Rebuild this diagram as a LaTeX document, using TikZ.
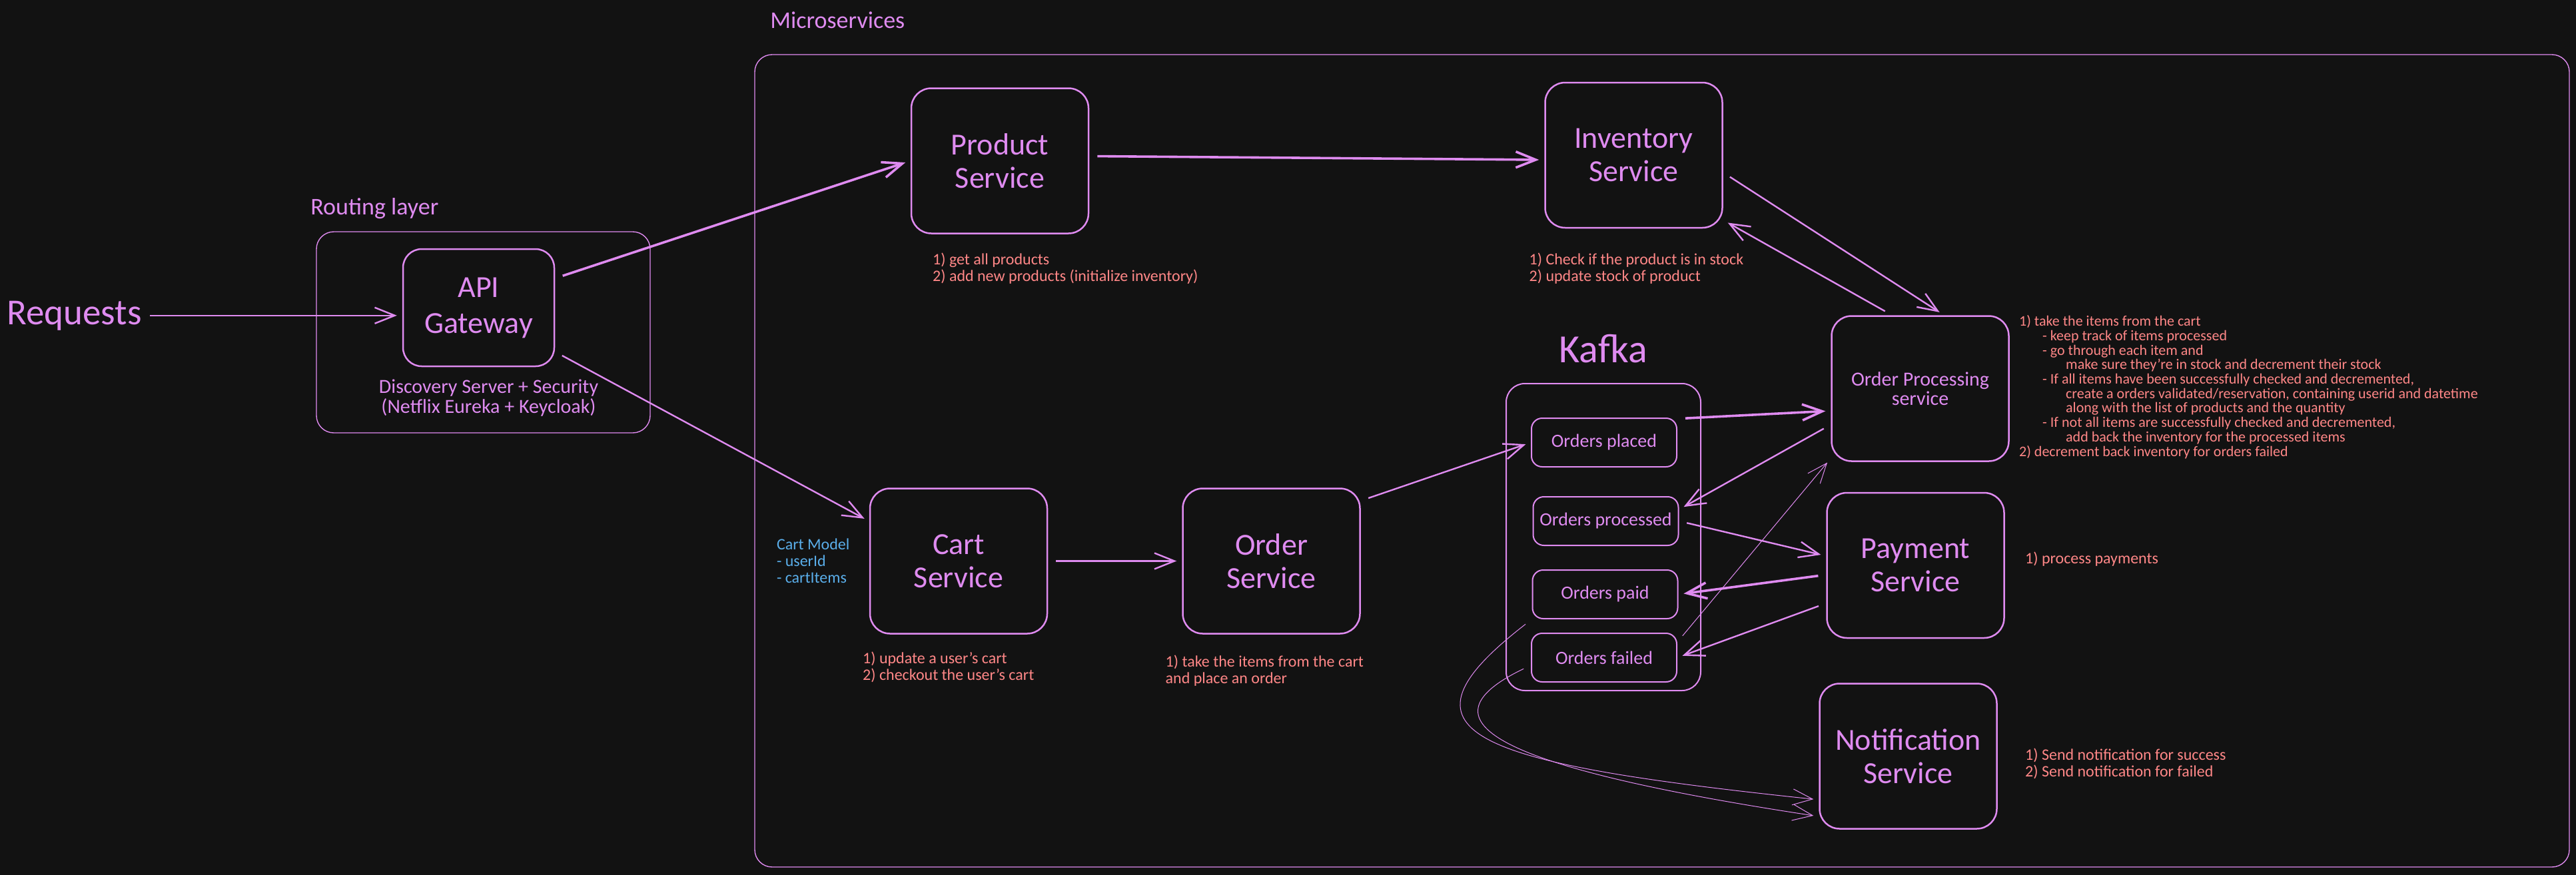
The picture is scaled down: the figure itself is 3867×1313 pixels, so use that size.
\documentclass[tikz,border=0pt]{standalone}
\usepackage{fontspec}
\setmainfont{Carlito}
\usepackage{tikz}
\usetikzlibrary{arrows.meta,positioning,calc}

\definecolor{bgdark}{HTML}{121212}
\definecolor{lilac}{HTML}{DF8BF0}
\definecolor{salmon}{HTML}{FF8787}
\definecolor{skyblue}{HTML}{5AAEEA}

\begin{document}
\begin{tikzpicture}[
    x=0.5pt, y=-0.5pt,
    service/.style={rectangle, draw=lilac, line width=1.25pt, rounded corners=15pt, minimum width=133pt, minimum height=109pt, text=lilac, align=center, font=\fontsize{23}{25}\selectfont},
    topic/.style={rectangle, draw=lilac, line width=1pt, rounded corners=8pt, minimum width=109pt, minimum height=36.5pt, text=lilac, font=\fontsize{14}{16}\selectfont},
    group/.style={rectangle, draw=lilac, line width=0.7pt, rounded corners=13pt},
    title/.style={text=lilac, inner sep=0pt, font=\fontsize{18}{20}\selectfont},
    note/.style={text=salmon, align=left, inner sep=0pt, font=\fontsize{12}{12.5}\selectfont},
    arrow/.style={->, >={Straight Barb[length=15pt,width=12pt]}, draw=lilac, line width=1.2pt, shorten >=4pt, shorten <=6pt},
    bigarrow/.style={arrow, line width=1.8pt},
    thinarrow/.style={arrow, line width=0.5pt}
]
    % Background
    \useasboundingbox (0,0) rectangle (3867,1313);
    \fill[bgdark] (-20,-20) rectangle (3887,1333);

    % Groups
    \node[group, minimum width=250.5pt, minimum height=151pt] (routing) at (725.5,499) {};
    \node[group, minimum width=1362pt, minimum height=610pt] (micro) at (2495,692) {};
    \node[title, anchor=base west] (routinglbl) at (466,322) {Routing layer};
    \node[title, anchor=base west] (microlbl) at (1156,42) {Microservices};

    % Entry
    \node[title, anchor=base west, font=\fontsize{27.5}{28}\selectfont] (requests) at (10,487) {Requests};
    \node[service, minimum width=113.5pt, minimum height=88pt, rounded corners=14pt, font=\fontsize{23}{27}\selectfont] (api) at (718.5,462) {API\\Gateway};
    \node[title, below=9pt of api, xshift=7.5pt, align=center, font=\fontsize{15}{15}\selectfont] (discovery) {Discovery Server + Security\\(Netflix Eureka + Keycloak)};

    % Services
    \node[service] (product) at (1501,241.5) {Product\\Service};
    \node[service, right=341.5pt of product, yshift=4.25pt] (inventory) {Inventory\\Service};
    \node[service] (cart) at (1439,842.5) {Cart\\Service};
    \node[service, right=100.5pt of cart] (order) {Order\\Service};
    \node[service, font=\fontsize{15}{14.5}\selectfont] (proc) at (2882.5,583.5) {Order Processing\\service};
    \node[service, below=22.5pt of proc, xshift=-3.5pt] (payment) {Payment\\Service};
    \node[service, below=33pt of payment, xshift=-5.5pt] (notif) {Notification\\Service};

    % Kafka
    \node[group, minimum width=146pt, minimum height=230.5pt, rounded corners=14pt, line width=1pt] (kafka) at (2407,806.5) {};
    \node[title, above=15pt of kafka, font=\fontsize{30}{32}\selectfont] (kafkalbl) {Kafka};
    \node[topic] (placed) at (2408,664.5) {Orders placed};
    \node[topic, below=21.5pt of placed, xshift=1.25pt] (processed) {Orders processed};
    \node[topic, below=17.5pt of processed, xshift=-0.5pt] (paid) {Orders paid};
    \node[topic, below=10pt of paid, xshift=-0.75pt] (failed) {Orders failed};

    % Notes
    \node[note, below=14pt of product.south west, anchor=north west, xshift=16.5pt] (productnote) {1) get all products\\2) add new products (initialize inventory)};
    \node[note, below=18pt of inventory.south west, anchor=north west, xshift=-11.5pt] (inventorynote) {1) Check if the product is in stock\\2) update stock of product};
    \node[note, below=13pt of cart.south west, anchor=north west, xshift=-5pt] (cartnote) {1) update a user's cart\\2) checkout the user's cart};
    \node[note, below=15.5pt of order.south west, anchor=north west, xshift=-12.5pt] (ordernote) {1) take the items from the cart\\and place an order};
    \node[note, text=skyblue, left=14.5pt of cart] (cartmodel) {Cart Model\\- userId\\- cartItems};
    \node[note, right=7pt of proc.north east, anchor=north west, font=\fontsize{11}{10.85}\selectfont] (procnote) {1) take the items from the cart\\
        \hspace*{17.5pt}- keep track of items processed\\
        \hspace*{17.5pt}- go through each item and\\
        \hspace*{35pt}make sure they're in stock and decrement their stock\\
        \hspace*{17.5pt}- If all items have been successfully checked and decremented,\\
        \hspace*{35pt}create a orders validated/reservation, containing userid and datetime\\
        \hspace*{35pt}along with the list of products and the quantity\\
        \hspace*{17.5pt}- If not all items are successfully checked and decremented,\\
        \hspace*{35pt}add back the inventory for the processed items\\
        2) decrement back inventory for orders failed};
    \node[note, right=15pt of payment, yshift=4.5pt] (paymentnote) {1) process payments};
    \node[note, right=20.5pt of notif, yshift=-5.75pt] (notifnote) {1) Send notification for success\\2) Send notification for failed};

    % Arrows
    \draw[arrow] (requests) -- (requests -| api.west);
    \draw[bigarrow] (api.21) -- (product.west);
    \draw[arrow] (api.-30) -- (cart.156);
    \draw[bigarrow] (product.3) -- (inventory.183);
    \draw[arrow] (inventory.-11) -- (proc.72);
    \draw[arrow] (proc.111) -- (inventory.-36);
    \draw[arrow] (cart) -- (order);
    \draw[arrow] (order.34) -- (placed.west);
    \draw[bigarrow] (placed.18) -- (proc.194);
    \draw[arrow] (proc.202) -- (processed.9);
    \draw[arrow] (processed.east) -- (payment.174);
    \draw[bigarrow] (payment.186) -- (paid.east);
    \draw[arrow] (payment.203) -- (failed.east);
    \draw[thinarrow] (failed.12) -- (proc.218);
    \draw[thinarrow] (paid.south west) .. controls (2080,1100) and (2200,1145) .. (notif.206);
    \draw[thinarrow] (failed.186) .. controls (2130,1080) and (2230,1150) .. (notif.214);
\end{tikzpicture}
\end{document}
